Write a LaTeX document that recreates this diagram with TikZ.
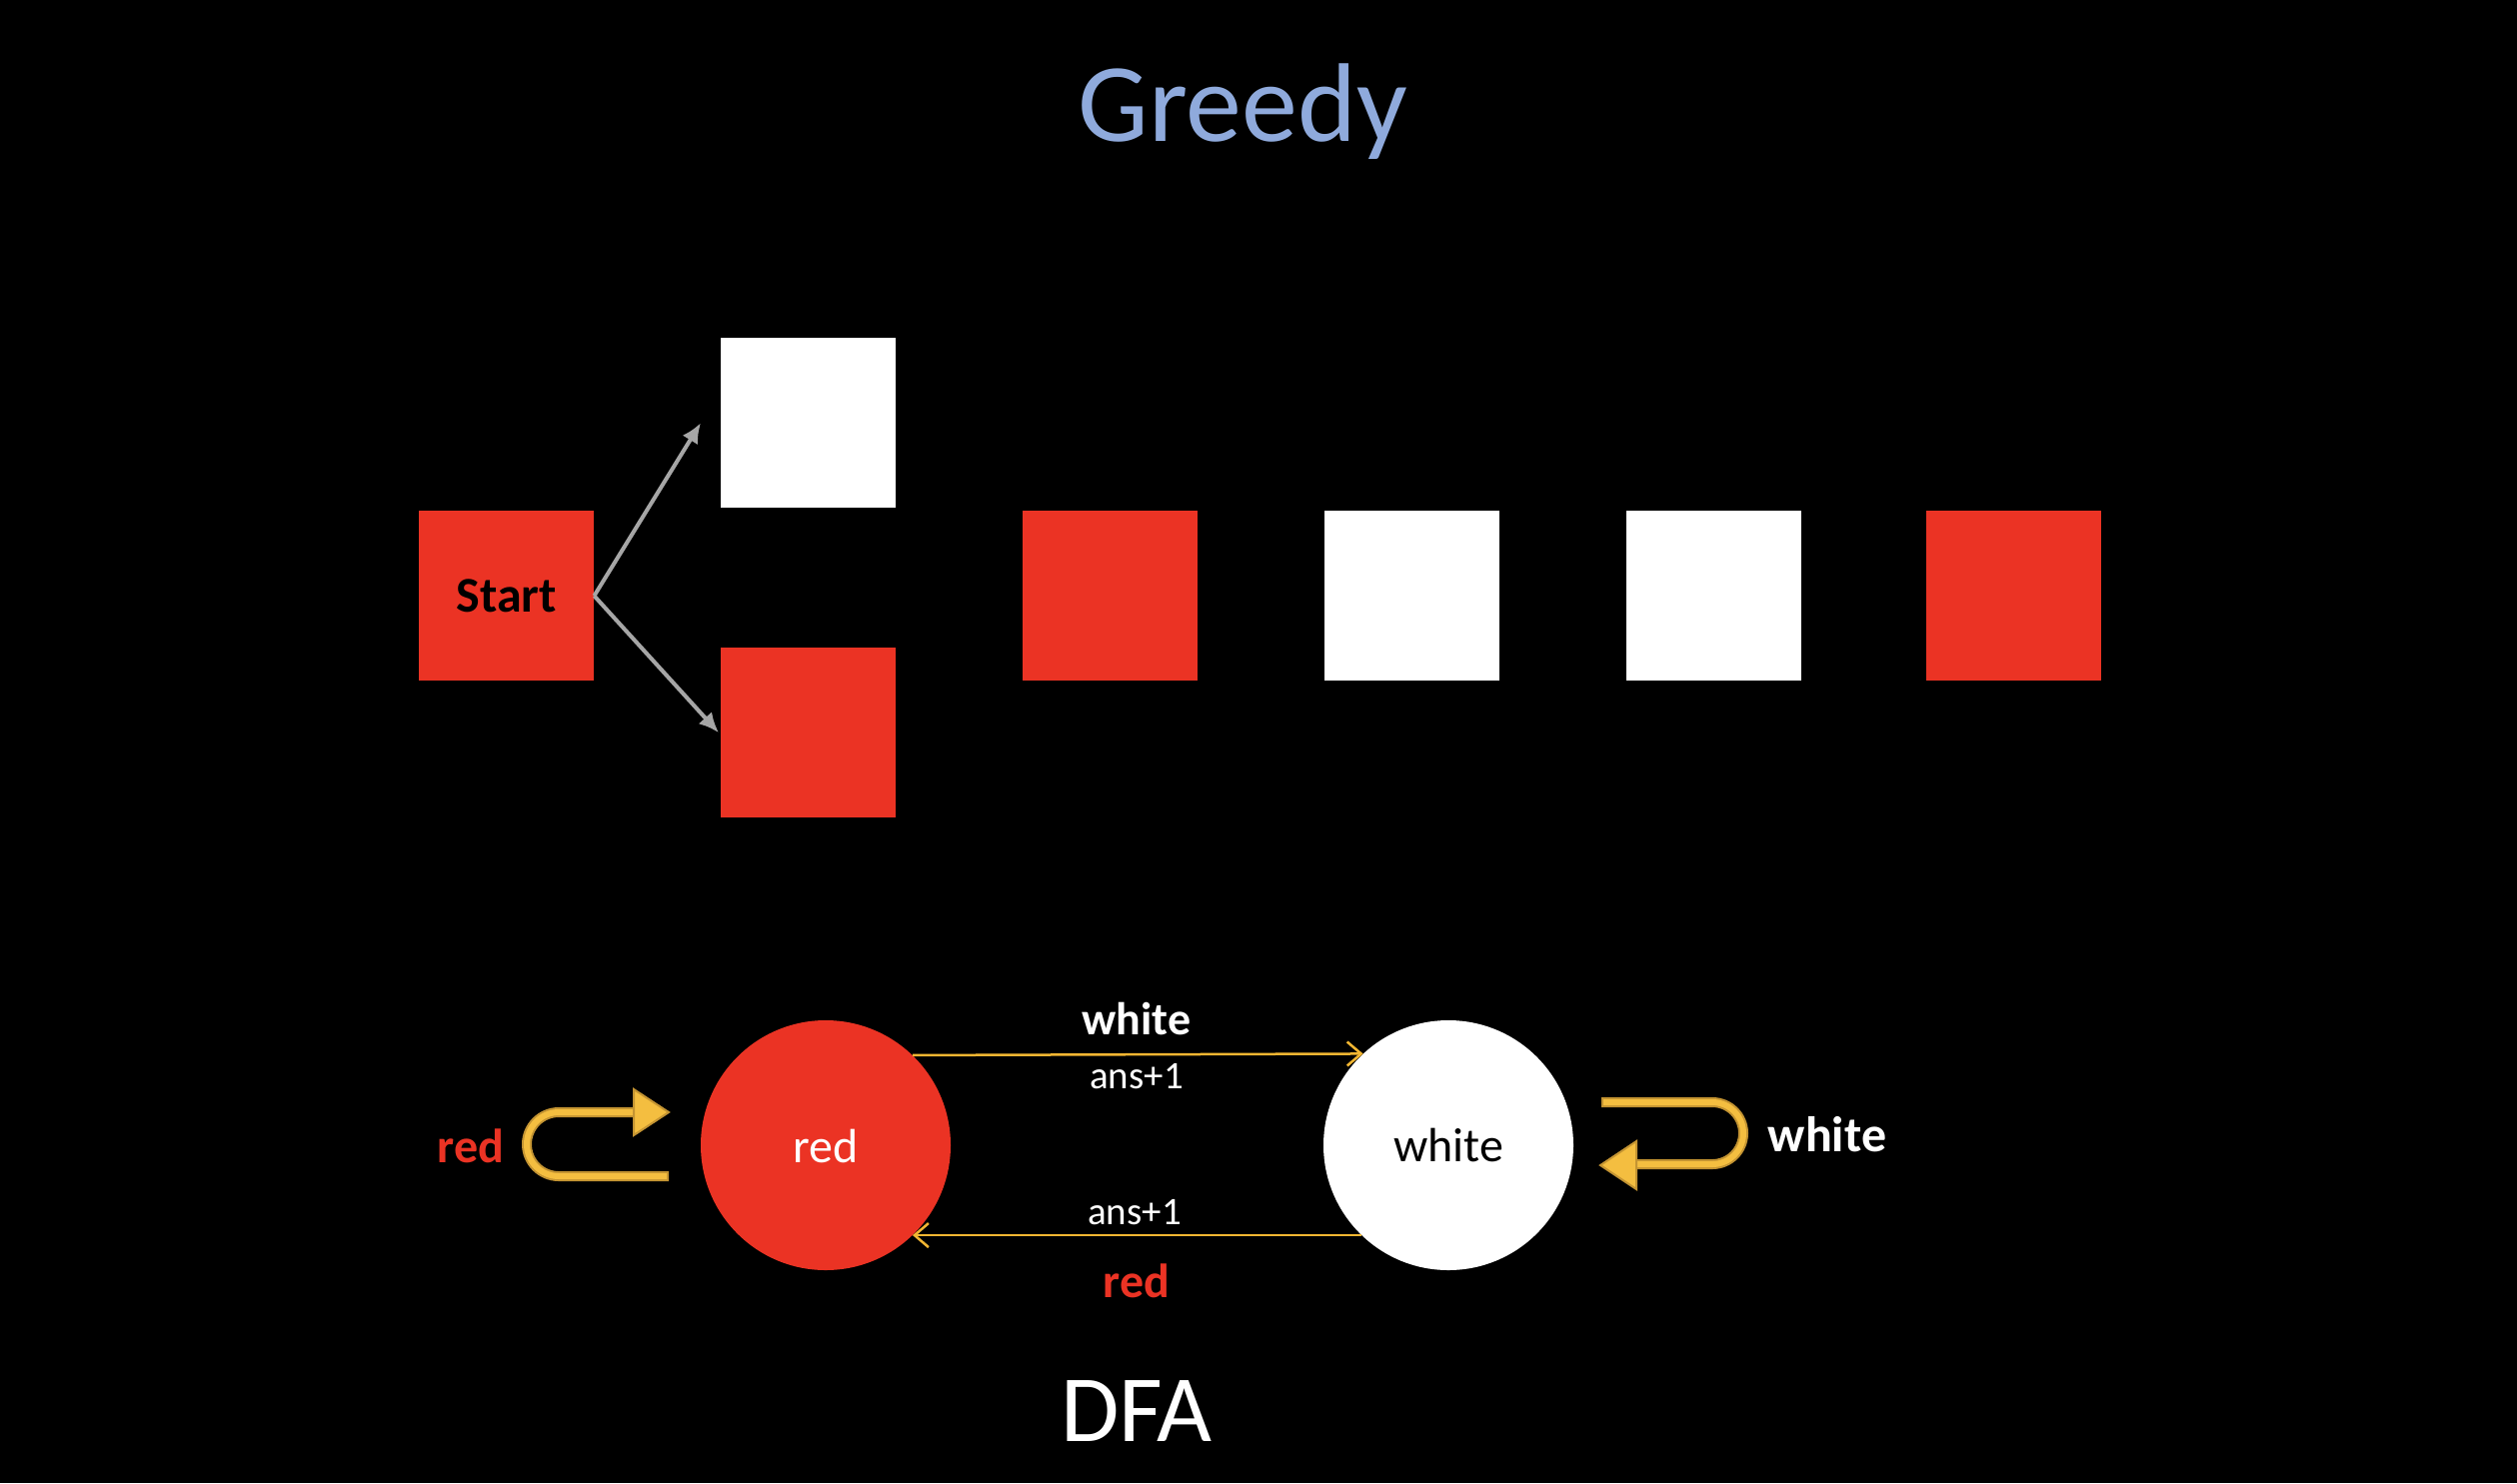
\documentclass[tikz,border=0pt]{standalone}
\usepackage{fontspec}
\setmainfont{Carlito}
\usetikzlibrary{arrows.meta,calc}
\definecolor{rd}{RGB}{235,51,36}
\definecolor{gold}{RGB}{244,190,64}
\definecolor{golddark}{RGB}{196,148,50}
\definecolor{lineyel}{RGB}{242,182,50}
\definecolor{blu}{RGB}{143,170,220}
\definecolor{gry}{RGB}{166,166,166}
\tikzset{
  sq/.style={minimum width=175pt,minimum height=170pt,inner sep=0pt,anchor=north west,draw=none},
  redsq/.style={sq,fill=rd},
  whitesq/.style={sq,fill=white},
  grayarrow/.style={draw=gry,line width=4pt,-{Latex[length=20pt,width=18pt]}},
  state/.style={circle,minimum size=250pt,inner sep=0pt,draw=none},
  trans/.style={draw=lineyel,line width=2.5pt,-{Straight Barb[length=14pt,width=24pt]}},
  lbl/.style={anchor=base,inner sep=0pt},
  bandouter/.style={draw=golddark,line width=10pt},
  bandinner/.style={draw=gold,line width=6pt},
  head/.style={fill=gold,draw=golddark,line width=2pt,line join=miter},
}
\begin{document}
\begin{tikzpicture}[x=1pt,y=-1pt]
\fill[black] (0,0) rectangle (2518,1484);
\useasboundingbox (0,0) rectangle (2518,1484);

% title
\node[lbl,text=blu,font=\fontsize{112}{130}\selectfont] (title) at (1243,141) {Greedy};

% squares
\node[redsq] (start) at (419,511) {\fontsize{50}{60}\selectfont\bfseries Start};
\node[whitesq] (w1) at (721,338) {};
\node[redsq] (r1) at (721,648) {};
\node[redsq] (b3) at (1023,511) {};
\node[whitesq] (b4) at (1325,511) {};
\node[whitesq] (b5) at (1627,511) {};
\node[redsq] (b6) at (1927,511) {};

\draw[grayarrow] (start.east) -- ($(w1.west)+(-20,0)$);
\draw[grayarrow] (start.east) -- ($(r1.west)+(-2,0)$);

% DFA states
\node[state,fill=rd] (rs) at (826,1146) {};
\node[state,fill=white] (ws) at (1449,1146) {};
\node[lbl,text=white,font=\fontsize{48}{58}\selectfont] (rsl) at (826,1163) {red};
\node[lbl,text=black,font=\fontsize{48}{58}\selectfont] (wsl) at (1449,1162) {white};

% transitions
\draw[trans] (rs.46.6) -- (ws.133.4);
\draw[trans] (ws.226.6) -- (rs.-46.6);
\node[lbl,text=white,font=\fontsize{46}{56}\selectfont\bfseries] (t1) at (1137,1035) {white};
\node[lbl,text=white,font=\fontsize{39}{48}\selectfont] (t1b) at (1137,1089) {ans+1};
\node[lbl,text=white,font=\fontsize{39}{48}\selectfont] (t2b) at (1135,1225) {ans+1};
\node[lbl,text=rd,font=\fontsize{48}{58}\selectfont\bfseries] (t2) at (1137,1298) {red};

% self loop on red
\draw[bandouter] (669,1177) -- (559,1177) arc[start angle=90,end angle=270,radius=32] -- (636,1113);
\draw[bandinner] (667,1177) -- (559,1177) arc[start angle=90,end angle=270,radius=32] -- (636,1113);
\filldraw[head] (634,1090) -- (669,1113) -- (634,1136) -- cycle;
\node[lbl,text=rd,font=\fontsize{48}{58}\selectfont\bfseries] (l1) at (471,1163) {red};

% self loop on white
\draw[bandouter] (1602,1103) -- (1713,1103) arc[start angle=270,end angle=450,radius=31] -- (1636,1165);
\draw[bandinner] (1604,1103) -- (1713,1103) arc[start angle=270,end angle=450,radius=31] -- (1636,1165);
\filldraw[head] (1637,1142) -- (1601,1166) -- (1637,1190) -- cycle;
\node[lbl,text=white,font=\fontsize{50}{60}\selectfont\bfseries] (l2) at (1828,1152) {white};

% bottom title
\node[lbl,text=white,font=\fontsize{95}{110}\selectfont] (dfa) at (1137,1442) {DFA};
\end{tikzpicture}
\end{document}
